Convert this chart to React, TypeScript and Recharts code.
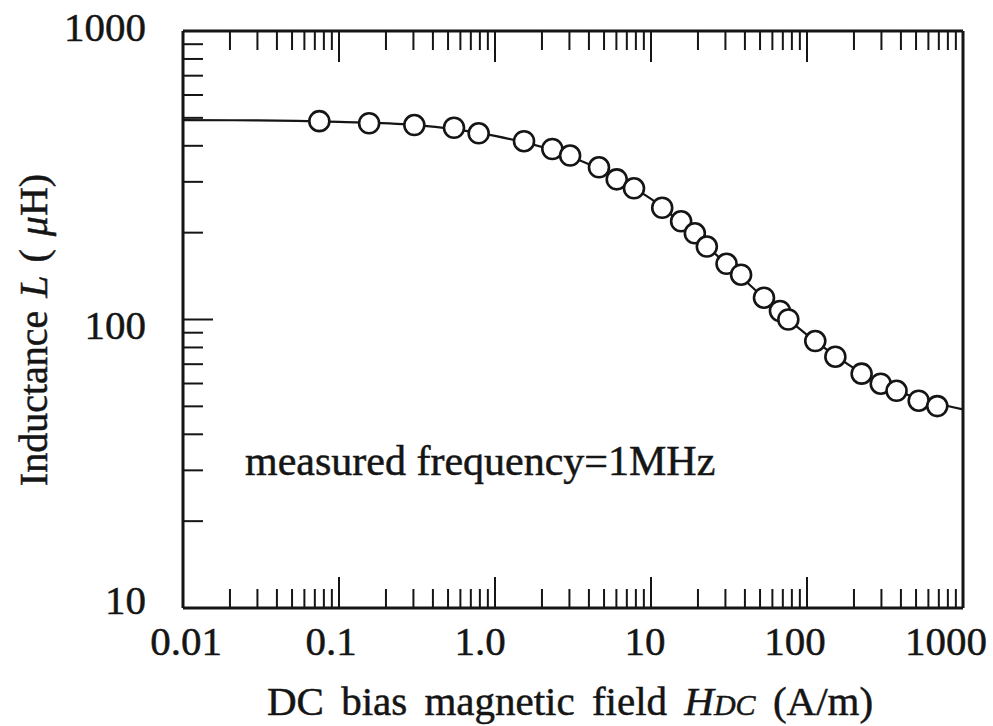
import React from "react";
import { ComposedChart, XAxis, YAxis, Line, Scatter } from "recharts";

// measured points (DC bias field in A/m, inductance in uH)
const fieldH = [
  0.0748, 0.156, 0.304, 0.546, 0.786, 1.535, 2.33, 3.03, 4.64, 6.03, 7.78,
  11.8, 15.6, 19.1, 22.8, 30.5, 37.8, 53.0, 67.1, 75.9, 113, 152, 224, 297,
  375, 520, 684,
];
const inductance = [
  487, 479, 472, 462, 442, 415, 390, 370, 337, 306, 285, 244, 219, 199, 179,
  156, 143, 119, 107, 100, 84.2, 74.3, 64.9, 59.9, 56.6, 52.3, 50.1,
];

// fitted curve
const curveH = [0.01, 0.03, 0.1, 0.3, 1, 3, 10, 30, 100, 300, 1000];
const curveL = [491, 490, 484, 473, 433, 369, 262, 157, 88.5, 59.8, 48.8];

const xTicks = [
  0.01, 0.02, 0.03, 0.04, 0.05, 0.06, 0.07, 0.08, 0.09,
  0.1, 0.2, 0.3, 0.4, 0.5, 0.6, 0.7, 0.8, 0.9,
  1, 2, 3, 4, 5, 6, 7, 8, 9,
  10, 20, 30, 40, 50, 60, 70, 80, 90,
  100, 200, 300, 400, 500, 600, 700, 800, 900,
  1000,
];
const yTicks = [
  10, 20, 30, 40, 50, 60, 70, 80, 90,
  100, 200, 300, 400, 500, 600, 700, 800, 900,
  1000,
];
const xMajor = [0.01, 0.1, 1, 10, 100, 1000];
const xMajorLabels = ["0.01", "0.1", "1.0", "10", "100", "1000"];
const yMajor = [10, 100, 1000];
const yMajorLabels = ["10", "100", "1000"];

const points = fieldH.map((h, i) => ({ h, L: inductance[i] }));
const curve = curveH.map((h, i) => ({ h, L: curveL[i] }));

const INK = "#151515";
const FONT = "'Liberation Serif', 'Times New Roman', serif";
// scanned print looks a little heavier than the plain font
const textStyle = { fontFamily: FONT, fill: INK, stroke: INK, strokeWidth: 0.5 };

function BottomTick({ x, y, payload }: any) {
  const i = xMajor.indexOf(payload.value);
  const len = i >= 0 ? 31 : 19;
  const dx = [3, -8, -15, -6, -12, -17];
  return (
    <g>
      <line x1={x} x2={x} y1={y} y2={y - len} stroke={INK} strokeWidth={2} />
      {i >= 0 && (
        <text x={x + dx[i]} y={y + 47} textAnchor="middle" fontSize={41} style={textStyle}>
          {xMajorLabels[i]}
        </text>
      )}
    </g>
  );
}

function TopTick({ x, y, payload }: any) {
  const len = xMajor.includes(payload.value) ? 31 : 19;
  return <line x1={x} x2={x} y1={y} y2={y + len} stroke={INK} strokeWidth={2} />;
}

function LeftTick({ x, y, payload }: any) {
  const i = yMajor.indexOf(payload.value);
  const len = i >= 0 ? 30 : 20;
  const dy = [-8, 5, -4];
  return (
    <g>
      <line x1={x} x2={x + len} y1={y} y2={y} stroke={INK} strokeWidth={2} />
      {i >= 0 && (
        <text x={x - 37} y={y + dy[i]} textAnchor="end" dominantBaseline="central" fontSize={41} style={textStyle}>
          {yMajorLabels[i]}
        </text>
      )}
    </g>
  );
}

const Ring = (p: any) => (
  <circle cx={p.cx} cy={p.cy} r={10} fill="#fff" stroke={INK} strokeWidth={2.6} />
);

export default function App() {
  return (
    <div style={{ position: "absolute", left: 0, top: 0, background: "#fff" }}>
      <ComposedChart width={993} height={726} margin={{ top: 0, right: 0, bottom: 0, left: 0 }}>
        <XAxis
          xAxisId="B"
          dataKey="h"
          type="number"
          scale="log"
          domain={[0.01, 1000]}
          allowDataOverflow
          ticks={xTicks}
          interval={0}
          height={118}
          tickSize={0}
          tickMargin={0}
          tickLine={false}
          axisLine={{ stroke: INK, strokeWidth: 3 }}
          tick={<BottomTick />}
          label={{
            content: () => (
              <text x={570} y={715} textAnchor="middle" fontSize={41} wordSpacing={7} style={textStyle}>
                DC bias magnetic field{" "}
                <tspan fontStyle="italic">H</tspan>
                <tspan fontStyle="italic" fontSize={30}>DC</tspan>
                {" (A/m)"}
              </text>
            ),
          }}
        />
        <XAxis
          xAxisId="T"
          orientation="top"
          dataKey="h"
          type="number"
          scale="log"
          domain={[0.01, 1000]}
          allowDataOverflow
          ticks={xTicks}
          interval={0}
          height={31}
          tickSize={0}
          tickMargin={0}
          tickLine={false}
          axisLine={{ stroke: INK, strokeWidth: 3 }}
          tick={<TopTick />}
        />
        <YAxis
          yAxisId="L"
          type="number"
          scale="log"
          domain={[10, 1000]}
          allowDataOverflow
          ticks={yTicks}
          interval={0}
          width={183}
          tickSize={0}
          tickMargin={0}
          tickLine={false}
          axisLine={{ stroke: INK, strokeWidth: 3 }}
          tick={<LeftTick />}
          label={{
            content: () => (
              <text
                x={33}
                y={330}
                transform="rotate(-90 33 330)"
                textAnchor="middle"
                dominantBaseline="central"
                fontSize={40}
                wordSpacing={3}
                style={textStyle}
              >
                {"Inductance "}
                <tspan fontStyle="italic">L</tspan>
                {" ( "}
                <tspan fontStyle="italic">μ</tspan>
                {"H)"}
              </text>
            ),
          }}
        />
        <YAxis
          yAxisId="R"
          orientation="right"
          type="number"
          scale="log"
          domain={[10, 1000]}
          allowDataOverflow
          width={30}
          tick={false}
          tickLine={false}
          axisLine={{ stroke: INK, strokeWidth: 3 }}
        />
        <Line
          xAxisId="B"
          yAxisId="L"
          data={curve}
          dataKey="L"
          type="monotone"
          stroke={INK}
          strokeWidth={2.2}
          dot={false}
          activeDot={false}
          isAnimationActive={false}
        />
        <Scatter
          xAxisId="B"
          yAxisId="L"
          data={points}
          dataKey="L"
          shape={Ring}
          isAnimationActive={false}
        />
        <text x={245} y={475} fontSize={42} style={textStyle}>
          measured frequency=1MHz
        </text>
      </ComposedChart>
    </div>
  );
}
